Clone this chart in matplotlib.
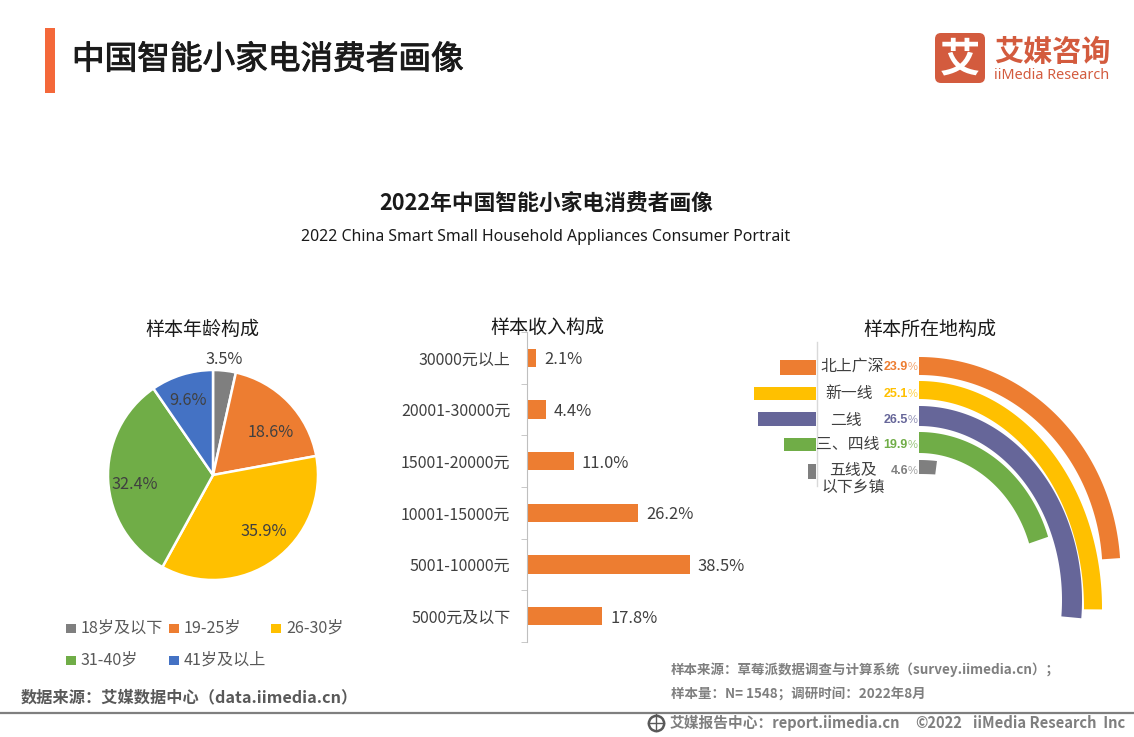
import numpy as np
import matplotlib
matplotlib.use('Agg')
from matplotlib import pyplot as plt
from matplotlib import patheffects
from matplotlib.patches import FancyBboxPatch, Rectangle

plt.rcParams['font.family'] = ['Noto Sans CJK SC', 'DejaVu Sans']

''' data '''
age_labels = ['18岁及以下', '19-25岁', '26-30岁', '31-40岁', '41岁及以上']
age_values = [3.5, 18.6, 35.9, 32.4, 9.6]

income_labels = ['30000元以上', '20001-30000元', '15001-20000元', '10001-15000元', '5001-10000元', '5000元及以下']
income_values = [2.1, 4.4, 11.0, 26.2, 38.5, 17.8]

city_labels = ['北上广深', '新一线', '二线', '三、四线', '五线及\n以下乡镇']
city_values = [23.9, 25.1, 26.5, 19.9, 4.6]
city_side_bars = [36, 62, 58, 32, 8]  # left stubs, not to scale with the % in the source

GREY = '#7F7F7F'
ORANGE = '#ED7D31'
YELLOW = '#FFC000'
GREEN = '#70AD47'
BLUE = '#4472C4'
PURPLE = '#666699'
TEXT = '#404040'
LOGO = '#D35B3E'

W, H = 1134, 737
fig = plt.figure(figsize=(W / 100, H / 100), dpi=100, facecolor='white')


def rect(x0, y0, x1, y1):
  return [x0 / W, 1 - y1 / H, (x1 - x0) / W, (y1 - y0) / H]


def pixel_layer(zorder):
  ax = fig.add_axes([0, 0, 1, 1], zorder=zorder)
  ax.set_xlim(0, W)
  ax.set_ylim(H, 0)
  ax.axis('off')
  return ax


page = pixel_layer(0)
top = pixel_layer(2)  # labels sitting on the pie

''' header '''
page.add_patch(Rectangle((45, 28), 10, 65, color='#F4683A', lw=0))
title = page.text(72, 60, '中国智能小家电消费者画像', fontsize=23.5, color='#1a1a1a', va='center')
title.set_path_effects([patheffects.withStroke(linewidth=0.7, foreground='#1a1a1a')])
page.add_patch(FancyBboxPatch((939, 37), 42, 42, boxstyle='round,pad=4,rounding_size=6', color=LOGO, lw=0))
page.text(960, 60, '艾', fontsize=29, fontweight='bold', color='white', ha='center', va='center')
page.text(994, 52, '艾媒咨询', fontsize=21, fontweight='bold', color=LOGO, va='center')
page.text(994, 75, 'iiMedia Research', fontsize=10.4, color=LOGO, va='center', family='Noto Sans')

page.text(546, 204, '2022年中国智能小家电消费者画像', fontsize=15.7, fontweight='bold', color='#1a1a1a', ha='center', va='center')
page.text(546, 237, '2022 China Smart Small Household Appliances Consumer Portrait', fontsize=11.4,
          color='#1a1a1a', ha='center', va='center', family='Noto Sans')

page.text(202, 329, '样本年龄构成', fontsize=13.7, color='#1a1a1a', ha='center', va='center')
page.text(547, 327, '样本收入构成', fontsize=13.7, color='#1a1a1a', ha='center', va='center')
page.text(930, 329, '样本所在地构成', fontsize=13.7, color='#1a1a1a', ha='center', va='center')

''' pie '''
ax_pie = fig.add_axes(rect(108, 370, 318, 580), zorder=1)
ax_pie.pie(age_values, colors=[GREY, ORANGE, YELLOW, GREEN, BLUE], startangle=90, counterclock=False,
           radius=1, wedgeprops=dict(edgecolor='white', linewidth=1.8))
ax_pie.set_xlim(-1, 1)
ax_pie.set_ylim(-1, 1)

pie_label_xy = [(224, 359), (271, 432), (264, 532), (135, 484), (188, 400)]
for v, (lx, ly) in zip(age_values, pie_label_xy):
  top.text(lx, ly, f'{v}%', fontsize=11.7, color=TEXT, ha='center', va='center')

# legend
legend_xy = [(71, 628), (174, 628), (276, 628), (71, 660), (174, 660)]
for lab, c, (lx, ly) in zip(age_labels, [GREY, ORANGE, YELLOW, GREEN, BLUE], legend_xy):
  page.add_patch(Rectangle((lx - 5, ly - 4.5), 9.5, 9.5, color=c, lw=0))
  page.text(lx + 10, ly, lab, fontsize=11.6, color='#595959', va='center')

''' income bars '''
ax_bar = fig.add_axes(rect(527, 332, 763, 642), zorder=1)
ypos = np.arange(len(income_values))
ax_bar.barh(ypos, income_values, height=0.35, color=ORANGE)
ax_bar.set_ylim(5.5, -0.5)
ax_bar.set_xlim(0, 55.8)
ax_bar.patch.set_alpha(0)
for s in ['top', 'right', 'bottom']:
  ax_bar.spines[s].set_visible(False)
ax_bar.spines['left'].set_color('#BFBFBF')
ax_bar.set_xticks([])
ax_bar.set_yticks(ypos)
ax_bar.set_yticklabels(income_labels, fontsize=11.5, color='#404040')
ax_bar.tick_params(axis='y', which='major', length=0, pad=12)
ax_bar.set_yticks(np.arange(-0.5, 6), minor=True)
ax_bar.tick_params(axis='y', which='minor', length=4, color='#BFBFBF')
for y, v in zip(ypos, income_values):
  ax_bar.text(v + 1.9, y + 0.04, f'{v}%', fontsize=11.9, color=TEXT, va='center')

''' location: rings + stubs '''
ring_colors = [ORANGE, YELLOW, PURPLE, GREEN, GREY]
ring_cx = 919
ring_cy = [573, 608, 600, 585, 485]
ring_rx = [201.5, 183, 163, 136, 63]
ring_ry = [216, 227, 194, 153, 25]
ring_wx = [18, 18, 20, 20, 6]
ring_wy = [18, 18, 20, 21, 14]
for i, v in enumerate(city_values):
  th = np.radians(np.linspace(0, v * 3.6, 120))
  ox = ring_cx + ring_rx[i] * np.sin(th)
  oy = ring_cy[i] - ring_ry[i] * np.cos(th)
  ix = ring_cx + (ring_rx[i] - ring_wx[i]) * np.sin(th)
  iy = ring_cy[i] - (ring_ry[i] - ring_wy[i]) * np.cos(th)
  page.fill(np.r_[ox, ix[::-1]], np.r_[oy, iy[::-1]], color=ring_colors[i], lw=0)

stub_y = [367, 393, 419, 444, 471]
stub_h = [15, 13, 14, 13, 15]
page.barh(stub_y, [-b for b in city_side_bars], left=816, height=stub_h, color=ring_colors)
page.plot([816.7, 816.7], [342, 486], color='#D9D9D9', lw=1)

label_xy = [(852, 367), (849, 393), (846, 420), (848, 444), (853, 479)]
for lab, (lx, ly) in zip(city_labels, label_xy):
  page.text(lx, ly, lab, fontsize=11.4, color=TEXT, ha='center', va='center', linespacing=1.0)

num_y = [367, 394, 420, 445, 471]
for v, c, ny in zip(city_values, ring_colors, num_y):
  page.text(908, ny, f'{v}', fontsize=9, fontweight='bold', color=c, ha='right', va='center', family='Liberation Sans')
  page.text(908, ny, '%', fontsize=8, color=c, alpha=0.7, ha='left', va='center', family='Liberation Sans')

''' footer '''
page.text(671, 670, '样本来源：草莓派数据调查与计算系统（survey.iimedia.cn）；', fontsize=9.7, fontweight='bold', color='#7F7F7F', va='center')
page.text(671, 694, '样本量：N= 1548；调研时间：2022年8月', fontsize=9.7, fontweight='bold', color='#7F7F7F', va='center')
page.text(21, 697, '数据来源：艾媒数据中心（data.iimedia.cn）', fontsize=11.7, fontweight='bold', color='#595959', va='center')
page.plot([0, W], [712.5, 712.5], color='#7F7F7F', lw=1.6)
page.plot([656], [722.5], marker='o', ms=11, mfc='white', mec='#595959', mew=1.8)
page.plot([648, 664], [722.5, 722.5], color='#595959', lw=1)
page.plot([656, 656], [714, 731], color='#595959', lw=1)
page.text(670, 723, '艾媒报告中心：report.iimedia.cn', fontsize=10.6, fontweight='bold', color='#7F7F7F', va='center')
page.text(915, 723, '©2022', fontsize=10.6, fontweight='bold', color='#7F7F7F', va='center')
page.text(973, 723, 'iiMedia Research  Inc', fontsize=10.6, fontweight='bold', color='#7F7F7F', va='center')

page.set_xlim(0, W)
page.set_ylim(H, 0)
fig.savefig('out.png', dpi=100)
